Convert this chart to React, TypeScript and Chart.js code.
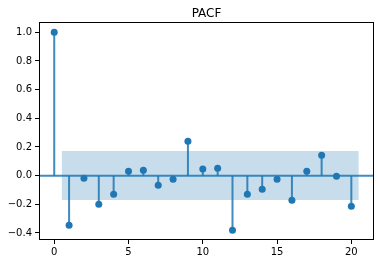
import React, { useEffect, useRef } from "react";
import { Chart, registerables } from "chart.js";

Chart.register(...registerables);

const lags = [0, 1, 2, 3, 4, 5, 6, 7, 8, 9, 10, 11, 12, 13, 14, 15, 16, 17, 18, 19, 20];
const pacfValues = [
  1.0, -0.346, -0.018, -0.2, -0.13, 0.03, 0.038, -0.067, -0.025, 0.24,
  0.047, 0.052, -0.381, -0.13, -0.095, -0.025, -0.172, 0.03, 0.142, -0.004, -0.213,
];
const bandX = [0.5, 20.5];
const confUpper = [0.172, 0.172];
const confLower = [-0.17, -0.17];
const xTicks = [0, 5, 10, 15, 20];
const yTicks = [-0.4, -0.2, 0.0, 0.2, 0.4, 0.6, 0.8, 1.0];
const title = "PACF";

const X_MIN = -1.025;
const X_MAX = 21.525;
const Y_MIN = -0.449;
const Y_MAX = 1.072;

const BLUE = "#1f77b4";
const STEM = "rgba(31,119,180,0.85)";
const FONT = "'DejaVu Sans', sans-serif";

export default function App() {
  const ref = useRef<HTMLCanvasElement | null>(null);

  useEffect(() => {
    const canvas = ref.current;
    if (!canvas) return;

    const stemData: any[] = [];
    lags.forEach((l, i) => {
      stemData.push({ x: l, y: 0 });
      stemData.push({ x: l, y: pacfValues[i] });
      stemData.push({ x: l, y: null });
    });

    const framePlugin = {
      id: "frame",
      afterDraw(chart: any) {
        const { ctx, chartArea } = chart;
        ctx.save();
        ctx.strokeStyle = "#000";
        ctx.lineWidth = 1;
        ctx.strokeRect(
          Math.round(chartArea.left) + 0.5,
          Math.round(chartArea.top) + 0.5,
          Math.round(chartArea.right - chartArea.left) - 1,
          Math.round(chartArea.bottom - chartArea.top) - 1
        );
        ctx.fillStyle = "#000";
        ctx.font = `12px ${FONT}`;
        ctx.textAlign = "center";
        ctx.textBaseline = "alphabetic";
        ctx.fillText(title, (chartArea.left + chartArea.right) / 2, 17);
        ctx.restore();
      },
    };

    const chart = new Chart(canvas, {
      type: "scatter",
      data: {
        datasets: [
          {
            type: "scatter",
            data: lags.map((l, i) => ({ x: l, y: pacfValues[i] })),
            backgroundColor: BLUE,
            borderColor: BLUE,
            pointRadius: 3.5,
            pointBorderWidth: 0,
          } as any,
          {
            type: "line",
            data: stemData,
            borderColor: STEM,
            borderWidth: 2,
            pointRadius: 0,
            spanGaps: false,
            fill: false,
          } as any,
          {
            type: "line",
            data: [
              { x: X_MIN, y: 0 },
              { x: X_MAX, y: 0 },
            ],
            borderColor: STEM,
            borderWidth: 2,
            pointRadius: 0,
            fill: false,
          } as any,
          {
            type: "line",
            data: bandX.map((x, i) => ({ x, y: confUpper[i] })),
            borderWidth: 0,
            borderColor: "rgba(0,0,0,0)",
            backgroundColor: "rgba(31,119,180,0.25)",
            pointRadius: 0,
            fill: "+1",
          } as any,
          {
            type: "line",
            data: bandX.map((x, i) => ({ x, y: confLower[i] })),
            borderWidth: 0,
            borderColor: "rgba(0,0,0,0)",
            pointRadius: 0,
            fill: false,
          } as any,
        ],
      },
      options: {
        responsive: false,
        animation: false,
        layout: { padding: { left: 0, right: 6, top: 22, bottom: 0 } },
        plugins: {
          legend: { display: false },
          tooltip: { enabled: false },
          title: { display: false },
        },
        scales: {
          x: {
            type: "linear",
            min: X_MIN,
            max: X_MAX,
            afterBuildTicks: (s: any) => {
              s.ticks = xTicks.map((v) => ({ value: v }));
            },
            afterFit: (s: any) => {
              s.height = 24;
            },
            grid: {
              drawOnChartArea: false,
              drawTicks: true,
              tickLength: 4,
              tickColor: "#000",
            },
            border: { display: false },
            ticks: {
              color: "#000",
              font: { family: FONT, size: 10 },
              padding: 2,
              maxRotation: 0,
              autoSkip: false,
              callback: (v: any) => String(v),
            },
          },
          y: {
            type: "linear",
            min: Y_MIN,
            max: Y_MAX,
            afterBuildTicks: (s: any) => {
              s.ticks = yTicks.map((v) => ({ value: v }));
            },
            afterFit: (s: any) => {
              s.width = 39;
            },
            grid: {
              drawOnChartArea: false,
              drawTicks: true,
              tickLength: 4,
              tickColor: "#000",
            },
            border: { display: false },
            ticks: {
              color: "#000",
              font: { family: FONT, size: 10 },
              padding: 3,
              autoSkip: false,
              callback: (v: any) => Number(v).toFixed(1).replace("-", "\u2212"),
            },
          },
        },
      },
      plugins: [framePlugin],
    } as any);

    return () => chart.destroy();
  }, []);

  return (
    <div style={{ position: "absolute", left: 0, top: 0, width: 380, height: 264, background: "#fff" }}>
      <canvas ref={ref} width={380} height={264} style={{ width: 380, height: 264, display: "block" }} />
    </div>
  );
}
